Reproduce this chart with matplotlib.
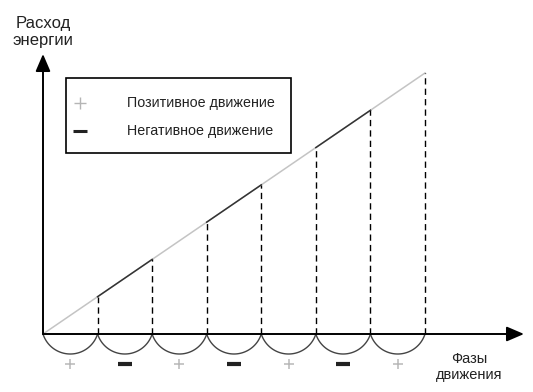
import numpy as np
import matplotlib
matplotlib.use("Agg")
import matplotlib.pyplot as plt
from matplotlib.lines import Line2D
from matplotlib.patches import Rectangle

plt.rcParams['font.family'] = ['Liberation Sans', 'DejaVu Sans']

# ---- data ----
phase_bounds = [0, 1, 2, 3, 4, 5, 6, 7]
energy = [0, 1, 2, 3, 4, 5, 6, 7]
phase_signs = ['+', '-', '+', '-', '+', '-', '+']
legend_labels = ['Позитивное движение', 'Негативное движение']
y_label = 'Расход\nэнергии'
x_label = 'Фазы\nдвижения'

W, H = 533, 392
fig = plt.figure(figsize=(W / 100, H / 100), dpi=100)
# axes box in pixels: origin at (43, 334), top-right data corner at (425, 73)
x0p, y0p, x1p, y1p = 43, 334, 425, 73
ax = fig.add_axes([x0p / W, (H - y0p) / H, (x1p - x0p) / W, (y0p - y1p) / H])
ax.set_xlim(0, 7)
ax.set_ylim(0, 7)
ax.axis('off')
pxx = (x1p - x0p) / 7.0   # pixels per x unit
pxy = (y0p - y1p) / 7.0   # pixels per y unit

# axes arrows
astyle = '-|>,head_length=1.05,head_width=0.45'
ax.annotate('', xy=((524 - x0p) / pxx, 0), xytext=(0, 0),
            arrowprops=dict(arrowstyle=astyle, color='black', lw=1.4,
                            shrinkA=0, shrinkB=0),
            annotation_clip=False)
ax.annotate('', xy=(0, (y0p - 54) / pxy), xytext=(0, 0),
            arrowprops=dict(arrowstyle=astyle, color='black', lw=1.4,
                            shrinkA=0, shrinkB=0),
            annotation_clip=False)

# diagonal (gray)
ax.plot(phase_bounds, energy, color='#c4c4c4', lw=1.1, clip_on=False, zorder=2)
# dark segments for negative phases
for i, s in enumerate(phase_signs):
    if s == '-':
        ax.plot(phase_bounds[i:i + 2], energy[i:i + 2], color='#333333',
                lw=1.1, clip_on=False, zorder=3)

# dashed verticals
for xb, e in zip(phase_bounds[1:], energy[1:]):
    ax.plot([xb, xb], [0, e], color='black', lw=1.0, ls=(0, (4.5, 3)),
            clip_on=False, zorder=2)

# arcs under each phase (circle arc in pixel space)
sag = 20.0
chord = pxx
r = (chord ** 2 / 4 + sag ** 2) / (2 * sag)
half = np.arcsin((chord / 2) / r)
th = np.linspace(-half, half, 60)
for i in range(len(phase_signs)):
    xc = (phase_bounds[i] + phase_bounds[i + 1]) / 2
    xs = xc + r * np.sin(th) / pxx
    ys = -(r * np.cos(th) - (r - sag)) / pxy
    ax.plot(xs, ys, color='#444444', lw=1.0, clip_on=False)

# phase signs
for i, s in enumerate(phase_signs):
    xc = (phase_bounds[i] + phase_bounds[i + 1]) / 2
    ys = -(364 - y0p) / pxy
    if s == '+':
        ax.plot(xc, ys, marker='+', ms=7.5, mew=1.1, color='#b8b8b8', clip_on=False)
    else:
        ax.plot(xc, ys, marker='_', ms=10.5, mew=3, color='#222222', clip_on=False)

# axis labels
fig.text(43 / W, 1 - 32 / H, y_label, ha='center', va='center', fontsize=12,
         linespacing=1.15, color='#222222')
fig.text(469 / W, 1 - 367 / H, x_label, ha='center', va='center', fontsize=10.5,
         linespacing=1.2, color='#222222')

# legend box
fig.patches.append(Rectangle((66 / W, 1 - 153 / H), (291 - 66) / W, (153 - 78) / H,
                             transform=fig.transFigure, fill=False,
                             edgecolor='black', lw=1.2))
fig.lines.append(Line2D([80 / W], [1 - 103 / H], marker='+', ms=8, mew=1.0,
                        color='#b5b5b5', transform=fig.transFigure))
fig.lines.append(Line2D([80 / W], [1 - 131 / H], marker='_', ms=10, mew=2.2,
                        color='#222222', transform=fig.transFigure))
fig.text(127 / W, 1 - 103 / H, legend_labels[0], ha='left', va='center',
         fontsize=10.3, color='#222222')
fig.text(127 / W, 1 - 131 / H, legend_labels[1], ha='left', va='center',
         fontsize=10.3, color='#222222')

fig.savefig('out.png', dpi=100)
